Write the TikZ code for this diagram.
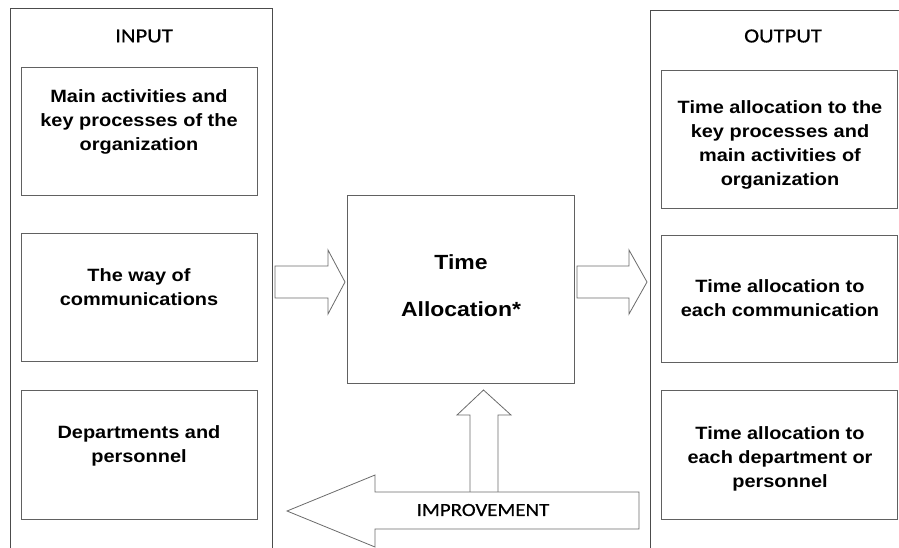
\documentclass[tikz,border=0pt]{standalone}
\usepackage{fontspec}
\setmainfont{Liberation Sans}[FakeStretch=1.12]
\newfontfamily\headfont{Carlito}[FakeStretch=1.13,FakeBold=0.6]
\begin{document}
\begin{tikzpicture}[x=1pt,y=-1pt,
  frame/.style={draw=black!70, line width=0.9pt},
  card/.style={draw=black!62, line width=0.9pt, fill=white, inner sep=0pt},
  cardtext/.style={align=center, inner sep=0pt,
    font=\bfseries\fontsize{17.8}{24}\selectfont},
  coretext/.style={align=center, inner sep=0pt,
    font=\bfseries\fontsize{20.5}{47}\selectfont},
  headtext/.style={inner sep=0pt, font=\headfont\fontsize{20}{22}\selectfont},
  blockarrow/.style={draw=black!58, line width=0.8pt, fill=white, line join=miter}]
\useasboundingbox (0,0) rectangle (899,547);

% open frames of the input and output columns
\begin{scope}
  \clip (0,0) rectangle (899,547);
  \draw[frame] (10,560) -- (10,8) -- (272,8) -- (272,560);
  \draw[frame] (650,560) -- (650,10) -- (910,10) -- (910,560);
\end{scope}
\node[headtext] (inhead) at (144,36) {INPUT};
\node[headtext] (outhead) at (783,36) {OUTPUT};

% input cards
\node[card, minimum width=236, minimum height=128] (in1) at (139,131) {};
\node[cardtext] at (139,122) {Main activities and\\key processes of the\\organization};
\node[card, minimum width=236, minimum height=128] (in2) at (139,297) {};
\node[cardtext] at (139,287) {The way of\\communications};
\node[card, minimum width=236, minimum height=129] (in3) at (139,454.5) {};
\node[cardtext] at (139,446) {Departments and\\personnel};

% output cards
\node[card, minimum width=236, minimum height=138] (out1) at (779,139) {};
\node[cardtext] at (780,145) {Time allocation to the\\key processes and\\main activities of\\organization};
\node[card, minimum width=236, minimum height=127] (out2) at (779,298.5) {};
\node[cardtext] at (780,298.5) {Time allocation to\\each communication};
\node[card, minimum width=236, minimum height=129] (out3) at (779,454.5) {};
\node[cardtext] at (780,459) {Time allocation to\\each department or\\personnel};

% central process
\node[card, minimum width=227, minimum height=188] (core) at (460.5,289) {};
\node[coretext] at (461,285.5) {Time\\Allocation*};

% block arrows: input -> core -> output
\draw[blockarrow] (275,266) -- (328,266) -- (328,250) -- (345,282)
  -- (328,314) -- (328,298) -- (275,298) -- cycle;
\draw[blockarrow] (577,266) -- (629,266) -- (629,250) -- (647,282)
  -- (629,314) -- (629,298) -- (577,298) -- cycle;

% feedback: improvement back to the core
\draw[blockarrow] (470,492) -- (470,415) -- (457,415) -- (483.5,390)
  -- (511,415) -- (498,415) -- (498,492);
\draw[blockarrow] (639,492) -- (375,492) -- (375,475) -- (287,511)
  -- (375,547) -- (375,529) -- (639,529) -- cycle;
\node[inner sep=0pt, font=\headfont\fontsize{18.5}{20}\selectfont] (improve) at (483,510) {IMPROVEMENT};
\end{tikzpicture}
\end{document}
